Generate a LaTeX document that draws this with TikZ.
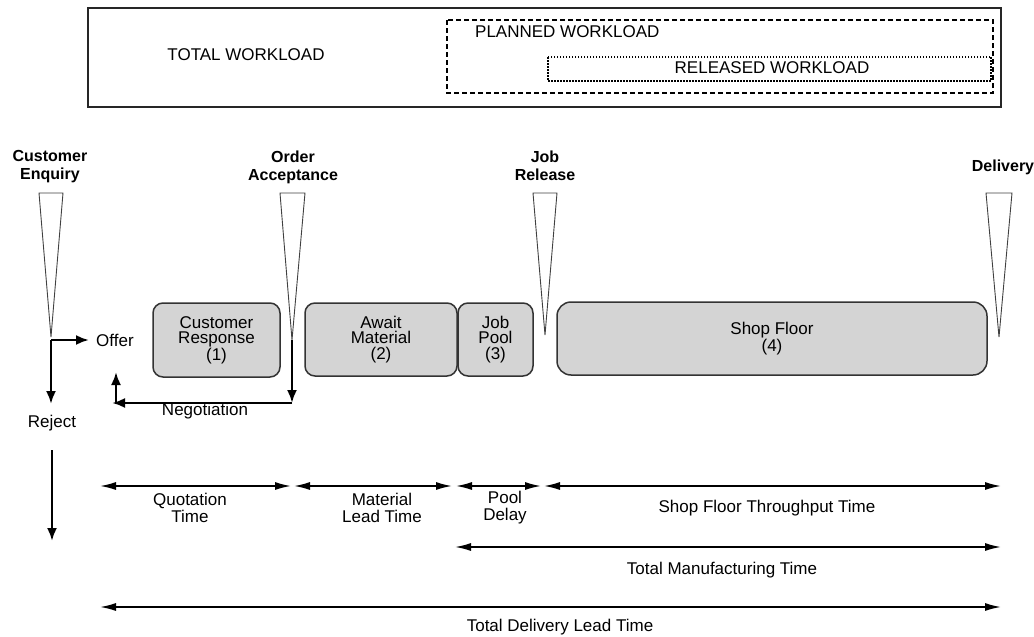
\documentclass[tikz,border=0pt]{standalone}
\usepackage{fontspec}
\setmainfont{Liberation Sans}
\usetikzlibrary{arrows.meta}
\begin{document}
\begin{tikzpicture}[x=1pt,y=-1pt,
  lbl/.style={font=\fontsize{17}{17}\selectfont, align=center, inner sep=0pt},
  evt/.style={font=\fontsize{16}{18}\bfseries\selectfont, align=center, inner sep=0pt},
  stage/.style={draw=black!80, line width=1.5pt, fill=black!17, rounded corners=10pt,
    font=\fontsize{17}{15.5}\selectfont, align=center, inner sep=0pt},
  wedge/.style={draw=black!75, line width=0.9pt, fill=white},
  span/.style={line width=1.6pt, {Latex[length=16pt,width=8pt]}-{Latex[length=16pt,width=8pt]}},
  flow/.style={line width=2.4pt, -{Latex[length=13pt,width=10pt]}},
  wl/.style={font=\fontsize{17}{17}\selectfont, inner sep=0pt}]
\useasboundingbox (0,0) rectangle (1034,637);

% workload boxes
\draw[line width=1.4pt, draw=black!85] (88,8) rectangle (1001,107);
\draw[line width=1.3pt, dash pattern=on 5pt off 3pt] (447,20) rectangle (993,93);
\draw[line width=1.3pt, dash pattern=on 1.5pt off 1.5pt] (548,57) rectangle (991,81);
\node[wl] (tw) at (246,55) {TOTAL WORKLOAD};
\node[wl, anchor=west] (pw) at (475,32) {PLANNED WORKLOAD};
\node[wl] (rw) at (772,68) {RELEASED WORKLOAD};

% events
\node[evt] (ce) at (50,167) {Customer\\Enquiry};
\node[evt] (oa) at (293,167) {Order\\Acceptance};
\node[evt] (jr) at (545,166) {Job\\Release};
\node[evt] (dl) at (1003,167) {Delivery};

\coordinate (ceT) at (51,337);
\coordinate (oaT) at (292,340);
\coordinate (jrT) at (545,335);
\coordinate (dlT) at (999,337);
\draw[wedge] (39,193) -- (63,193) -- (ceT) -- cycle;
\draw[wedge] (280,193) -- (305,193) -- (oaT) -- cycle;
\draw[wedge] (533,193) -- (557,193) -- (jrT) -- cycle;
\draw[wedge] (986,193) -- (1012,193) -- (dlT) -- cycle;

% stages
\node[stage, minimum width=127pt, minimum height=74pt] (s1) at (216.5,340) {Customer\\Response\\(1)};
\node[stage, minimum width=152pt, minimum height=73pt] (s2) at (381,339.5) {Await\\Material\\(2)};
\node[stage, minimum width=75pt, minimum height=73pt] (s3) at (495.5,339.5) {Job\\Pool\\(3)};
\node[stage, minimum width=430pt, minimum height=73pt, rounded corners=14pt] (s4) at (772,338.5) {Shop Floor\\(4)};

% enquiry outcomes
\node[lbl, anchor=west] (offer) at (96,340) {Offer};
\node[lbl] (reject) at (52,423) {Reject};
\node[lbl] (nego) at (205,411) {Negotiation};
\coordinate (ceB) at (51,340);
\coordinate (rejT) at (51,404);
\coordinate (offT) at (89,340);
\draw[flow] (ceB) -- (rejT);
\draw[flow] (ceB) -- (offT);
\coordinate (oaB) at (292,403);
\coordinate (negL) at (112,403);
\coordinate (negC) at (116,403);
\coordinate (negU) at (116,372);
\draw[flow] (oaT) -- (oaB);
\draw[flow] (oaB) -- (negL);
\draw[flow] (negC) -- (negU);
\coordinate (rjA) at (52,450);
\coordinate (rjB) at (52,541);
\draw[flow] (rjA) -- (rjB);

% time spans
\coordinate (q1) at (100,486);  \coordinate (q2) at (291,486);
\coordinate (m1) at (294,486);  \coordinate (m2) at (452,486);
\coordinate (p1) at (456,486);  \coordinate (p2) at (541,486);
\coordinate (f1) at (544,486);  \coordinate (f2) at (1001,486);
\draw[span] (q1) -- (q2);
\draw[span] (m1) -- (m2);
\draw[span] (p1) -- (p2);
\draw[span] (f1) -- (f2);
\node[lbl] (qt) at (190,508) {Quotation\\Time};
\node[lbl] (mt) at (382,508) {Material\\Lead Time};
\node[lbl] (pd) at (505,508) {Pool\\Delay};
\node[lbl] (st) at (767,508) {Shop Floor Throughput Time};

\coordinate (t1) at (455,547);  \coordinate (t2) at (1001,547);
\draw[span] (t1) -- (t2);
\node[lbl] (tm) at (722,570) {Total Manufacturing Time};

\coordinate (d1) at (100,607);  \coordinate (d2) at (1001,607);
\draw[span] (d1) -- (d2);
\node[lbl] (td) at (560,627) {Total Delivery Lead Time};
\end{tikzpicture}
\end{document}
